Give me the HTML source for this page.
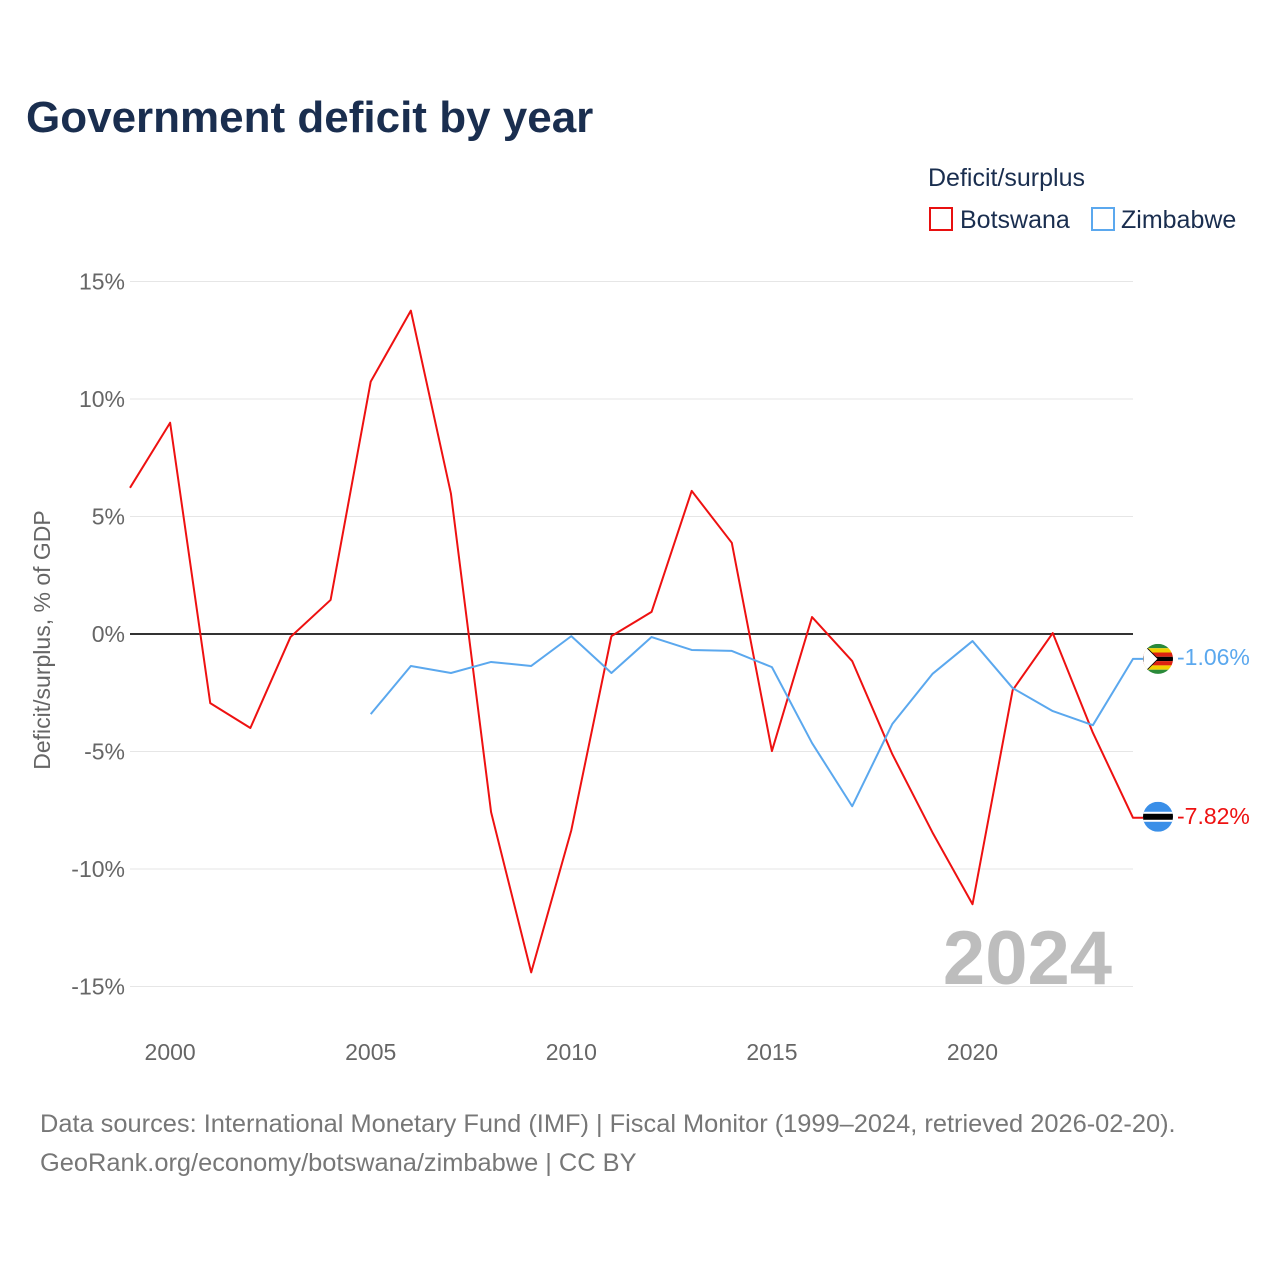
<!DOCTYPE html>
<html><head><meta charset="utf-8">
<style>
body{margin:0;background:#fff;width:1280px;height:1280px;overflow:hidden;font-family:"Liberation Sans",sans-serif;}
</style></head>
<body>
<svg id="chart" width="1280" height="1280" xmlns="http://www.w3.org/2000/svg">
<text x="26" y="132" font-size="44" font-weight="bold" fill="#1a2e4f">Government deficit by year</text>
<text x="928" y="186" font-size="25" fill="#1a2e4f">Deficit/surplus</text>
<g><rect x="930" y="208" width="22" height="22" fill="none" stroke="#e81010" stroke-width="2"/><text x="960" y="228" font-size="25" fill="#1a2e4f">Botswana</text></g>
<g><rect x="1092" y="208" width="22" height="22" fill="none" stroke="#5ba8ee" stroke-width="2"/><text x="1121" y="228" font-size="25" fill="#1a2e4f">Zimbabwe</text></g>
<g id="grid"></g><g id="yticks"></g><g id="xticks"></g>
<text transform="translate(50,640) rotate(-90)" text-anchor="middle" font-size="23" fill="#666">Deficit/surplus, % of GDP</text>
<text x="1112" y="984" text-anchor="end" font-size="76" font-weight="bold" fill="#bdbdbd">2024</text>
<g id="series"></g>
<text x="40" y="1132" font-size="25.4" fill="#777">Data sources: International Monetary Fund (IMF) | Fiscal Monitor (1999–2024, retrieved 2026-02-20).</text>
<text x="40" y="1171" font-size="25.4" fill="#777">GeoRank.org/economy/botswana/zimbabwe | CC BY</text>
</svg>
<script>
const years=[1999,2000,2001,2002,2003,2004,2005,2006,2007,2008,2009,2010,2011,2012,2013,2014,2015,2016,2017,2018,2019,2020,2021,2022,2023,2024];
const botswana=[6.22,8.99,-2.94,-4.0,-0.13,1.45,10.74,13.76,5.97,-7.58,-14.4,-8.35,-0.09,0.94,6.09,3.88,-4.98,0.72,-1.15,-5.11,-8.44,-11.5,-2.39,0.04,-4.2,-7.82];
const zimbabwe=[null,null,null,null,null,null,-3.41,-1.36,-1.66,-1.19,-1.36,-0.09,-1.66,-0.13,-0.68,-0.72,-1.41,-4.64,-7.33,-3.83,-1.70,-0.30,-2.30,-3.28,-3.88,-1.06];
const yTicks=[15,10,5,0,-5,-10,-15];
const xTicks=[2000,2005,2010,2015,2020];
const NS="http://www.w3.org/2000/svg";
const x=v=>130+(v-1999)*(1133-130)/25;
const y=v=>634-v*23.5;
function mk(tag,attrs,parent){const e=document.createElementNS(NS,tag);for(const k in attrs)e.setAttribute(k,attrs[k]);document.getElementById(parent).appendChild(e);return e;}
yTicks.forEach(t=>{
  const l=mk('line',{x1:130,x2:1133,y1:y(t),y2:y(t),stroke:t===0?'#333':'#e6e6e6','stroke-width':t===0?2:1},'grid');
  
  
  const tx=mk('text',{x:125,y:y(t)+8,'text-anchor':'end','font-size':23,fill:'#666'},'yticks');
  tx.textContent=t+'%';
  
  
});
xTicks.forEach(t=>{
  const tx=mk('text',{x:x(t),y:1060,'text-anchor':'middle','font-size':23,fill:'#666'},'xticks');
  tx.textContent=t;
  
  
});
function line(vals,color,name){
  let d='';vals.forEach((v,i)=>{if(v===null)return;d+=(d?'L':'M')+x(years[i])+','+y(v);});
  d+='h10';
  const p=mk('path',{d:d,fill:'none',stroke:color,'stroke-width':2,'stroke-linejoin':'round'},'series');
  
  
}
line(botswana,'#ee1111','botswana');
line(zimbabwe,'#5ba8ee','zimbabwe');
function endLabel(v,color,name,flag){
  const cx=1158,cy=y(v)+(name==='zimbabwe'?0:-1);
  const g=mk('g',{},'series');
  
  
  g.innerHTML=flag(cx,cy);
  const t=mk('text',{x:1177,y:y(v)+6,'font-size':23,fill:color},'series');
  t.textContent=v.toFixed(2)+'%';
  
  
}
endLabel(botswana[25],'#ee1111','botswana',(cx,cy)=>`<clipPath id="cb"><circle cx="${cx}" cy="${cy}" r="15"/></clipPath><g clip-path="url(#cb)"><rect x="${cx-15}" y="${cy-15}" width="30" height="30" fill="#3a8fe8"/><rect x="${cx-15}" y="${cy-5}" width="30" height="10" fill="#fff"/><rect x="${cx-15}" y="${cy-3}" width="30" height="6" fill="#000"/></g>`);
endLabel(zimbabwe[25],'#5ba8ee','zimbabwe',(cx,cy)=>`<clipPath id="cz"><circle cx="${cx}" cy="${cy}" r="15"/></clipPath><g clip-path="url(#cz)"><rect x="${cx-15}" y="${cy-15}" width="30" height="4.3" fill="#2a8a3a"/><rect x="${cx-15}" y="${cy-10.7}" width="30" height="4.3" fill="#f2d000"/><rect x="${cx-15}" y="${cy-6.4}" width="30" height="4.3" fill="#d21"/><rect x="${cx-15}" y="${cy-2.1}" width="30" height="4.3" fill="#000"/><rect x="${cx-15}" y="${cy+2.2}" width="30" height="4.3" fill="#d21"/><rect x="${cx-15}" y="${cy+6.5}" width="30" height="4.3" fill="#f2d000"/><rect x="${cx-15}" y="${cy+10.8}" width="30" height="4.3" fill="#2a8a3a"/><polygon points="${cx-15},${cy-15} ${cx},${cy} ${cx-15},${cy+15}" fill="#fff" stroke="#000" stroke-width="0.8"/></g>`);
</script>
</body></html>
